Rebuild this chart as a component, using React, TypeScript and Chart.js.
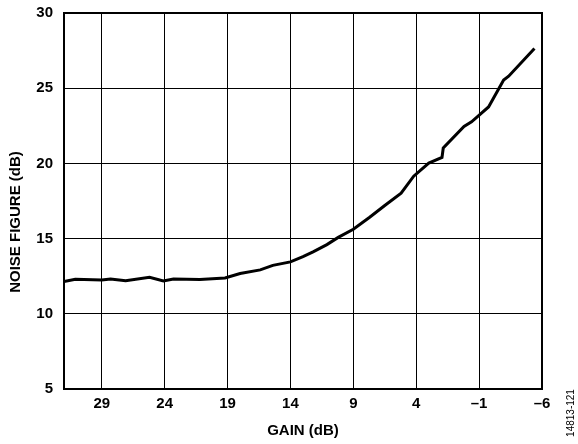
import React, { useEffect, useRef } from "react";
import { Chart, registerables } from "chart.js";

Chart.register(...registerables);

const gainDb = [32.0, 31.1, 29.0, 28.3, 27.1, 25.2, 24.1, 23.3, 21.2, 19.2, 18.0, 16.4, 15.4, 14.0, 13.0, 12.2, 11.1, 10.2, 9.0, 7.7, 6.5, 5.2, 4.2, 3.0, 1.95, 1.85, 0.2, -0.4, -1.75, -2.95, -3.35, -5.4];
const noiseFigureDb = [12.14, 12.30, 12.25, 12.32, 12.20, 12.43, 12.18, 12.32, 12.28, 12.38, 12.68, 12.92, 13.22, 13.45, 13.80, 14.12, 14.60, 15.08, 15.62, 16.42, 17.20, 18.02, 19.15, 20.02, 20.40, 21.02, 22.45, 22.76, 23.75, 25.55, 25.80, 27.64];
const xTicks = [29, 24, 19, 14, 9, 4, -1, -6];
const yTicks = [5, 10, 15, 20, 25, 30];
const xTitle = "GAIN (dB)";
const yTitle = "NOISE FIGURE (dB)";
const figCode = "14813-121";

const FONT = "'Liberation Sans', Arial, Helvetica, sans-serif";

const fmt = (v: number) => (v < 0 ? "\u2013" + Math.abs(v) : String(v));

export default function App() {
  const ref = useRef<HTMLCanvasElement>(null);
  useEffect(() => {
    document.body.style.margin = "0";
    const canvas = ref.current!;
    const decor = {
      id: "decor",
      beforeDatasetsDraw(chart: any) {
        const { ctx, chartArea: a } = chart;
        ctx.save();
        ctx.strokeStyle = "#000";
        ctx.lineWidth = 2;
        ctx.strokeRect(a.left, a.top, a.right - a.left, a.bottom - a.top);
        ctx.restore();
      },
      afterDraw(chart: any) {
        const { ctx, chartArea: a } = chart;
        ctx.save();
        ctx.fillStyle = "#000";
        ctx.textAlign = "center";
        ctx.textBaseline = "middle";
        ctx.font = `bold 15px ${FONT}`;
        ctx.fillText(xTitle, (a.left + a.right) / 2, 431);
        ctx.save();
        ctx.translate(16, 222);
        ctx.rotate(-Math.PI / 2);
        ctx.fillText(yTitle, 0, 0);
        ctx.restore();
        ctx.save();
        ctx.font = `10px ${FONT}`;
        ctx.translate(571, 413);
        ctx.rotate(-Math.PI / 2);
        ctx.fillText(figCode, 0, 0);
        ctx.restore();
        ctx.restore();
      },
    };
    const chart = new Chart(canvas, {
      type: "line",
      data: {
        datasets: [
          {
            data: gainDb.map((g, i) => ({ x: g, y: noiseFigureDb[i] })),
            borderColor: "#000",
            borderWidth: 3,
            pointRadius: 0,
            tension: 0,
            fill: false,
          },
        ],
      },
      options: {
        responsive: false,
        animation: false,
        layout: { padding: { left: 0, right: 36, top: 13, bottom: 0 } },
        plugins: { legend: { display: false }, tooltip: { enabled: false } },
        scales: {
          x: {
            type: "linear",
            reverse: true,
            min: -6,
            max: 32,
            afterBuildTicks: (s: any) => {
              s.ticks = xTicks.map((v) => ({ value: v }));
            },
            afterFit: (s: any) => {
              s.height = 55;
              s.paddingLeft = 0;
              s.paddingRight = 0;
            },
            grid: { color: "#000", lineWidth: 1, drawTicks: false },
            border: { display: false },
            ticks: {
              color: "#000",
              padding: 6,
              maxRotation: 0,
              autoSkip: false,
              font: { family: FONT, size: 15, weight: "bold" },
              callback: (v: any) => fmt(Number(v)),
            },
          },
          y: {
            type: "linear",
            min: 5,
            max: 30,
            afterBuildTicks: (s: any) => {
              s.ticks = yTicks.map((v) => ({ value: v }));
            },
            afterFit: (s: any) => {
              s.width = 64;
              s.paddingTop = 0;
              s.paddingBottom = 0;
            },
            grid: { color: "#000", lineWidth: 1, drawTicks: false },
            border: { display: false },
            ticks: {
              color: "#000",
              padding: 11,
              font: { family: FONT, size: 15, weight: "bold" },
              callback: (v: any) => fmt(Number(v)),
            },
          },
        },
      },
      plugins: [decor],
    } as any);
    return () => chart.destroy();
  }, []);
  return <canvas ref={ref} width={578} height={444} style={{ display: "block" }} />;
}
